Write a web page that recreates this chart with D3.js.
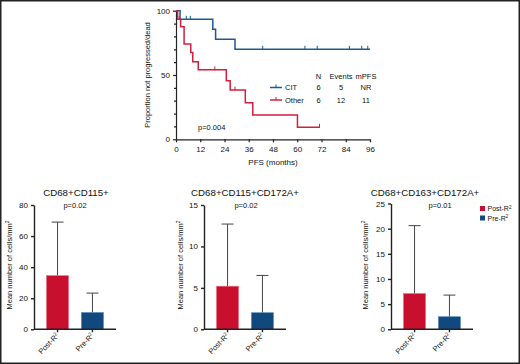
<!DOCTYPE html>
<html>
<head>
<meta charset="utf-8">
<script src="https://cdn.jsdelivr.net/npm/d3@7"></script>
<style>
  body { margin: 0; background: #fff; }
  svg text { font-family: "Liberation Sans", Arial, sans-serif; fill: #111; }
  .narrow { font-family: "Liberation Sans Narrow", "Arial Narrow", sans-serif !important; }
</style>
</head>
<body>
<div id="chart"></div>
<script>
// Kaplan-Meier data (months, % not progressed)
var citTimes = [0, 2, 18.2, 19.6, 29.2, 96];
var citSurv = [100, 93.3, 85.5, 77.8, 70, 70];
var citCensor = [5.1, 7.1, 42.9, 63.8, 69.9, 85.8, 91.9, 94.9];
var otherTimes = [0, 0.8, 2.3, 4.0, 7.3, 8.3, 11.0, 24.9, 26.8, 34.3, 38.0, 60.1, 71];
var otherSurv = [100, 93.3, 87.5, 74.2, 67.5, 60.4, 54.0, 45.6, 38.3, 28.5, 18.9, 9.3, 9.3];
var otherCensor = [1.6, 19.2, 29.2, 71];
var pfsTicks = [0, 12, 24, 36, 48, 60, 72, 84, 96];
var legendRows = [['CIT', '6', '5', 'NR'], ['Other', '6', '12', '11']];

// bar panels
var groups = ['Post-R', 'Pre-R'];
var panelTitles = ['CD68+CD115+', 'CD68+CD115+CD172A+', 'CD68+CD163+CD172A+'];
var panelP = ['p=0.02', 'p=0.02', 'p=0.01'];
var panelMax = [80, 15, 25];
var panelStep = [20, 5, 5];
var postMeans = [34.5, 5.2, 7.1];
var postErr = [69, 12.7, 20.6];
var preMeans = [10.8, 2.0, 2.5];
var preErr = [23.3, 6.5, 6.8];

var red = '#c8102e', blue = '#11497e';
var W = 520, H = 364;

var svg = d3.select('#chart').append('svg')
  .attr('width', W)
  .attr('height', H);

// frame
svg.append('rect')
  .attr('x', 0.75).attr('y', 0.75)
  .attr('width', W - 1.5).attr('height', H - 1.5)
  .attr('fill', 'none').attr('stroke', '#222').attr('stroke-width', 1.5);

// ---------- Survival plot ----------
var x = d3.scaleLinear().domain([0, 96]).range([176, 370]);
var y = d3.scaleLinear().domain([0, 100]).range([139.3, 10.7]);

var km = svg.append('g');

var xAxis = km.append('g')
  .attr('transform', 'translate(0,' + y(0) + ')')
  .call(d3.axisBottom(x).tickValues(pfsTicks).tickSize(3).tickSizeOuter(0));
xAxis.selectAll('text').attr('font-size', 8).attr('dy', '0.9em');

var yAxis = km.append('g')
  .attr('transform', 'translate(' + x(0) + ',0)')
  .call(d3.axisLeft(y).tickValues([0, 50, 100]).tickSize(3).tickSizeOuter(0));
yAxis.selectAll('text').attr('font-size', 8);
km.append('g')
  .attr('transform', 'translate(' + x(0) + ',0)')
  .call(d3.axisLeft(y).tickValues(d3.range(10, 100, 10).filter(function (d) { return d !== 50; })).tickSize(2).tickFormat(''))
  .select('.domain').remove();
km.selectAll('.domain, .tick line').attr('stroke', '#222').attr('stroke-width', 1.2);

km.append('text')
  .attr('class', 'narrow')
  .attr('transform', 'translate(150,' + y(50) + ') rotate(-90)')
  .attr('text-anchor', 'middle')
  .attr('font-size', 7.5)
  .text('Proportion not progressed/dead');

km.append('text')
  .attr('class', 'narrow')
  .attr('x', x(48)).attr('y', 165)
  .attr('text-anchor', 'middle')
  .attr('font-size', 8)
  .text('PFS (months)');

var step = d3.line()
  .x(function (d) { return x(d[0]); })
  .y(function (d) { return y(d[1]); })
  .curve(d3.curveStepAfter);

function survAt(times, surv, t) {
  var i = d3.bisectRight(times, t) - 1;
  return surv[Math.max(0, i)];
}

function drawCurve(times, surv, censor, color) {
  km.append('path')
    .datum(d3.zip(times, surv))
    .attr('d', step)
    .attr('fill', 'none')
    .attr('stroke', color)
    .attr('stroke-width', 1.5);
  km.selectAll(null)
    .data(censor)
    .enter()
    .append('line')
    .attr('x1', function (d) { return x(d); })
    .attr('x2', function (d) { return x(d); })
    .attr('y1', function (d) { return y(survAt(times, surv, d)) - 3.5; })
    .attr('y2', function (d) { return y(survAt(times, surv, d)) + 0.5; })
    .attr('stroke', color)
    .attr('stroke-width', 1);
}
drawCurve(citTimes, citSurv, citCensor, '#1d5a92');
drawCurve(otherTimes, otherSurv, otherCensor, '#d21f3c');

// legend table
var cols = [318.5, 341, 366];
km.append('text').attr('x', cols[0]).attr('y', 79).attr('text-anchor', 'middle').attr('font-size', 7.5).text('N');
km.append('text').attr('x', cols[1]).attr('y', 79).attr('text-anchor', 'middle').attr('font-size', 7.5).text('Events');
km.append('text').attr('x', cols[2]).attr('y', 79).attr('text-anchor', 'middle').attr('font-size', 7.5).text('mPFS');

var rowColors = ['#1d5a92', '#d21f3c'];
legendRows.forEach(function (row, i) {
  var ry = 87.5 + i * 12.5;
  km.append('line')
    .attr('x1', 270).attr('x2', 282).attr('y1', ry).attr('y2', ry)
    .attr('stroke', rowColors[i]).attr('stroke-width', 1.5);
  km.append('line')
    .attr('x1', 276).attr('x2', 276).attr('y1', ry - 3).attr('y2', ry)
    .attr('stroke', rowColors[i]).attr('stroke-width', 1);
  km.append('text').attr('x', 285).attr('y', ry + 2.8).attr('font-size', 7.5).text(row[0]);
  for (var c = 1; c < 4; c++) {
    km.append('text').attr('x', cols[c - 1]).attr('y', ry + 2.8)
      .attr('text-anchor', 'middle').attr('font-size', 7.5).text(row[c]);
  }
});

km.append('text').attr('x', 198).attr('y', 129.5).attr('font-size', 7.5).text('p=0.004');

// ---------- Bar panels ----------
var axisX = [34, 204, 391];
var labelX = [12, 183, 368];

panelTitles.forEach(function (title, p) {
  var g = svg.append('g').attr('transform', 'translate(' + axisX[p] + ',0)');
  var xb = d3.scaleBand().domain(groups).range([0, 82]).paddingInner(0.37).paddingOuter(0.36);
  var yb = d3.scaleLinear().domain([0, panelMax[p]]).range([329.3, p === 2 ? 203.5 : 205]);

  var means = [postMeans[p], preMeans[p]];
  var errs = [postErr[p], preErr[p]];
  var colors = [red, blue];

  // error bars (upper only)
  groups.forEach(function (grp, i) {
    var cx = xb(grp) + xb.bandwidth() / 2;
    g.append('line')
      .attr('x1', cx).attr('x2', cx)
      .attr('y1', yb(means[i])).attr('y2', yb(errs[i]))
      .attr('stroke', '#444').attr('stroke-width', 1);
    g.append('line')
      .attr('x1', cx - 6).attr('x2', cx + 6)
      .attr('y1', yb(errs[i])).attr('y2', yb(errs[i]))
      .attr('stroke', '#444').attr('stroke-width', 1);
  });

  g.selectAll('rect.bar')
    .data(groups)
    .enter()
    .append('rect')
    .attr('class', 'bar')
    .attr('x', function (d) { return xb(d); })
    .attr('width', xb.bandwidth())
    .attr('y', function (d, i) { return yb(means[i]); })
    .attr('height', function (d, i) { return yb(0) - yb(means[i]); })
    .attr('fill', function (d, i) { return colors[i]; })
    .attr('stroke', function (d, i) { return i === 0 ? '#e8667a' : '#4f86b8'; })
    .attr('stroke-width', 0.6);

  var ya = g.append('g')
    .call(d3.axisLeft(yb).tickValues(d3.range(0, panelMax[p] + 0.1, panelStep[p])).tickSize(3).tickSizeOuter(0));
  ya.selectAll('text').attr('font-size', 8);

  var xa = g.append('g')
    .attr('transform', 'translate(0,' + yb(0) + ')')
    .call(d3.axisBottom(xb).tickSize(3).tickSizeOuter(0).tickFormat(''));
  xa.select('.domain').attr('d', 'M0,0H82');
  g.selectAll('.domain, .tick line').attr('stroke', '#222').attr('stroke-width', 1.4);

  // rotated tick labels with superscript
  groups.forEach(function (grp) {
    var cx = xb(grp) + xb.bandwidth() / 2 + 2;
    var t = g.append('text')
      .attr('transform', 'translate(' + cx + ',' + (yb(0) + 7) + ') rotate(-45)')
      .attr('text-anchor', 'end')
      .attr('font-size', 7.5);
    t.append('tspan').text(grp);
    t.append('tspan').attr('font-size', 5).attr('dy', -3).text('2');
  });

  var titleX = [76, 245, 425][p] - axisX[p];
  g.append('text')
    .attr('x', titleX).attr('y', 196)
    .attr('text-anchor', 'middle')
    .attr('font-size', 9.7)
    .text(title);

  var pX = [75, 246, 440][p] - axisX[p];
  g.append('text')
    .attr('x', pX).attr('y', 208)
    .attr('text-anchor', 'middle')
    .attr('font-size', 7.5)
    .text(panelP[p]);

  var yl = svg.append('text')
    .attr('class', 'narrow')
    .attr('transform', 'translate(' + labelX[p] + ',265) rotate(-90)')
    .attr('text-anchor', 'middle')
    .attr('font-size', 7.5);
  yl.append('tspan').text('Mean number of cells/mm');
  yl.append('tspan').attr('font-size', 5).attr('dy', -3).text('2');
});

// legend for bar panels
var leg = svg.append('g').attr('transform', 'translate(480,206)');
[red, blue].forEach(function (c, i) {
  leg.append('rect')
    .attr('x', 0).attr('y', i * 9.5)
    .attr('width', 5).attr('height', 5)
    .attr('fill', c);
  var t = leg.append('text')
    .attr('x', 7.5).attr('y', i * 9.5 + 5)
    .attr('font-size', 7);
  t.append('tspan').text(groups[i]);
  t.append('tspan').attr('font-size', 4.5).attr('dy', -2.5).text('2');
});
</script>
</body>
</html>
